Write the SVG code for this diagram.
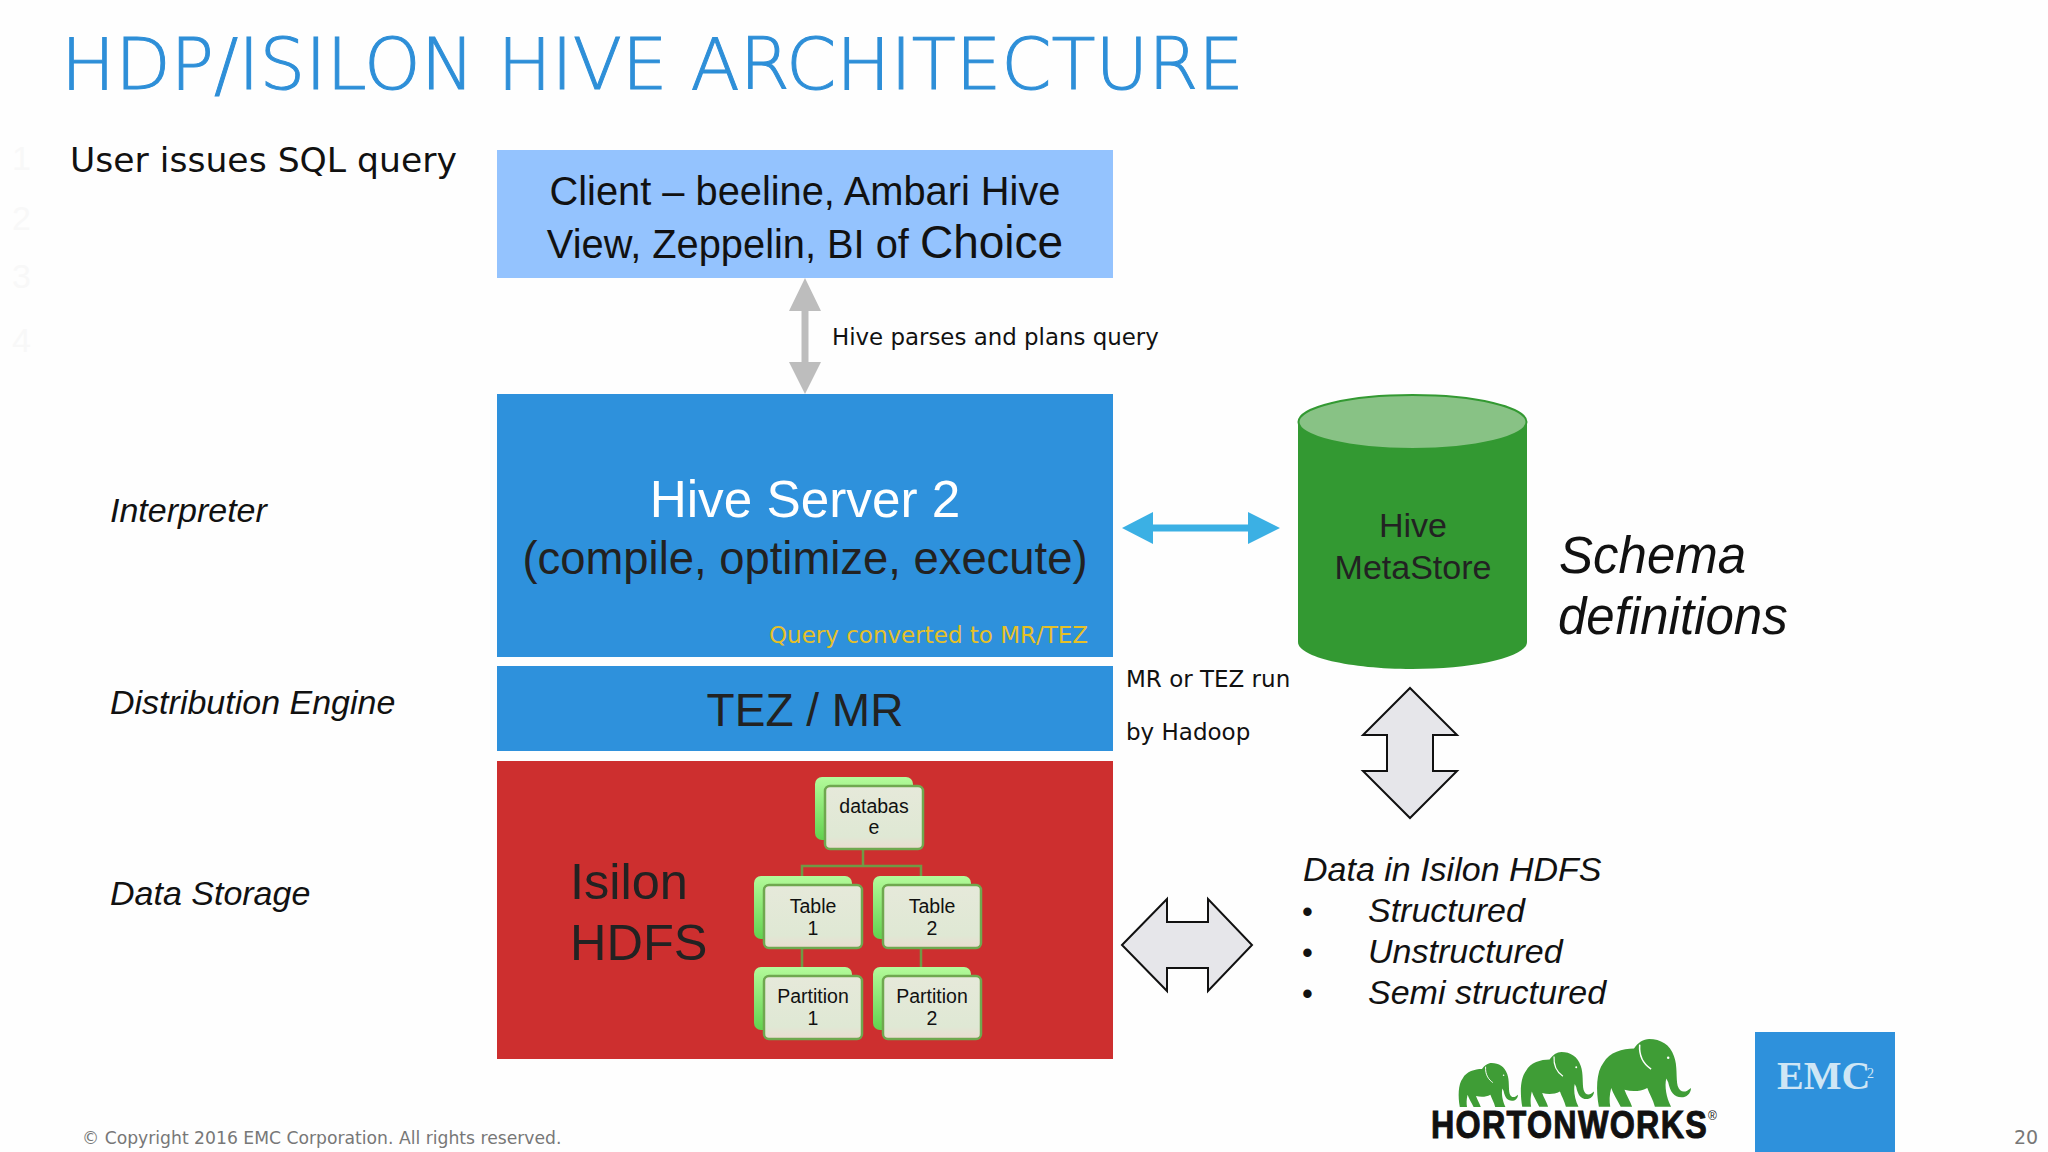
<svg xmlns="http://www.w3.org/2000/svg" xmlns:xlink="http://www.w3.org/1999/xlink" width="2048" height="1152" viewBox="0 0 2048 1152">
<style>
.a{font-family:"Liberation Sans",Arial,sans-serif}
.d{font-family:"DejaVu Sans",Verdana,sans-serif}
.i{font-style:italic;fill:#111}
.m{text-anchor:middle}
.t{font-size:19.500px;fill:#111;text-anchor:middle}
.back{fill:url(#bg)}
.front{fill:url(#fg);stroke:#6fa84f;stroke-width:2.5}
.tl{stroke:#6f9a45;stroke-width:2.5;fill:none}
.blk{fill:#e6e6ea;stroke:#111;stroke-width:2}
.ear{fill:none;stroke:#fff;stroke-width:1.6}
</style>
<defs>
<linearGradient id="bg" x1="0" y1="0" x2="0" y2="1"><stop offset="0" stop-color="#b4fb9b"/><stop offset="1" stop-color="#62d24f"/></linearGradient>
<linearGradient id="fg" x1="0" y1="0" x2="0" y2="1"><stop offset="0" stop-color="#e6e9da"/><stop offset=".8" stop-color="#dfe8d4"/><stop offset="1" stop-color="#ebdcd0"/></linearGradient>
<g id="ele">
<path fill="#3f9d36" d="M3,72 C0,55 0,35 8,25 C14,14 28,10 40,10 C44,4 50,0 56,0 C68,0 78,6 82,18 C86,28 84,42 86,50 C88,56 92,57 96,55 L100,52 C100,58 95,62 90,62 C82,62 78,56 76,46 L74,42 C72,50 74,62 79,72 L62,72 C60,64 56,58 54,52 C46,56 38,56 30,54 C32,60 36,66 38,72 L26,72 C22,64 18,58 16,52 C14,60 14,66 15,72 Z"/>
<path class="ear" d="M46,6 C45,20 52,28 58,32"/>
<circle cx="76" cy="20" r="1.3" fill="#fff"/>
</g>
<g id="box"><rect class="back" x="-10" y="-9" width="98" height="63" rx="7"/><rect class="front" x="0" y="0" width="98" height="63" rx="5"/></g>
</defs>
<rect width="2048" height="1152" fill="#fefefe"/>
<text id="title" x="61" y="89" font-size="72" font-weight="200" fill="#2e8fd8" stroke="#2e8fd8" stroke-width="1" style="font-family:'DejaVu Sans',sans-serif">HDP/ISILON HIVE ARCHITECTURE</text>
<g id="faint-numbers" class="a" font-size="34" fill="#f8f8f8"><text x="12" y="170">1</text><text x="12" y="230">2</text><text x="12" y="288">3</text><text x="12" y="352">4</text></g>
<text class="d" x="70" y="172" font-size="34.600" fill="#111">User issues SQL query</text>
<g class="a i" font-size="34"><text x="110" y="522">Interpreter</text><text x="110" y="714">Distribution Engine</text><text x="110" y="905">Data Storage</text></g>

<g id="client"><rect x="497" y="150" width="616" height="128" fill="#94c3fe"/>
<text class="a m" x="805" y="205" font-size="39.800" fill="#111">Client – beeline, Ambari Hive</text>
<text class="a m" x="805" y="258" font-size="39.800" fill="#111">View, Zeppelin, BI of <tspan font-size="46">Choice</tspan></text></g>

<g id="hive-server"><rect x="497" y="394" width="616" height="263" fill="#2e91dc"/>
<text class="a m" x="805" y="517" font-size="51.300" fill="#fff">Hive Server 2</text>
<text class="a m" x="805" y="574" font-size="45.400" fill="#222">(compile, optimize, execute)</text>
<text class="d" x="769" y="643" font-size="23" fill="#e6c028">Query converted to MR/TEZ</text></g>

<g id="tez"><rect x="497" y="666" width="616" height="85" fill="#2e91dc"/>
<text class="a m" x="805" y="726" font-size="46" fill="#222">TEZ / MR</text></g>

<g id="isilon"><rect x="497" y="761" width="616" height="298" fill="#cd2f2f"/>
<text class="a" x="570" y="899" font-size="50.500" fill="#222">Isilon</text>
<text class="a" x="570" y="960" font-size="50.500" fill="#222">HDFS</text></g>

<g id="tree-links"><path class="tl" d="M863,849V866M802,885V866H921V885M802,948V976M921,948V976"/></g>
<g id="n-database"><use xlink:href="#box" href="#box" x="825" y="786"/><text class="a t" x="874" y="813">databas</text><text class="a t" x="874" y="834">e</text></g>
<g id="n-table1"><use xlink:href="#box" href="#box" x="764" y="885"/><text class="a t" x="813" y="913">Table</text><text class="a t" x="813" y="935">1</text></g>
<g id="n-table2"><use xlink:href="#box" href="#box" x="883" y="885"/><text class="a t" x="932" y="913">Table</text><text class="a t" x="932" y="935">2</text></g>
<g id="n-part1"><use xlink:href="#box" href="#box" x="764" y="976"/><text class="a t" x="813" y="1003">Partition</text><text class="a t" x="813" y="1025">1</text></g>
<g id="n-part2"><use xlink:href="#box" href="#box" x="883" y="976"/><text class="a t" x="932" y="1003">Partition</text><text class="a t" x="932" y="1025">2</text></g>

<g id="metastore">
<path fill="#339932" d="M1298,422V642C1298,657 1350,669 1412,669C1475,669 1527,657 1527,642V422Z"/>
<ellipse cx="1412.500" cy="422" rx="114" ry="27" fill="#88c285" stroke="#339932" stroke-width="2"/>
<text class="a m" x="1413" y="537" font-size="34" fill="#222">Hive</text>
<text class="a m" x="1413" y="579" font-size="34" fill="#222">MetaStore</text></g>

<g id="connectors">
<path fill="#bdbdbd" d="M805,278L821,311H808.500V362H821L805,394L789,362H801.500V311H789Z"/>
<path fill="#3bb0e4" d="M1122,528L1153,512V524.500H1248V512L1280,528L1248,544V531.500H1153V544Z"/>
<path class="blk" d="M1410,688L1457,735H1433V771H1457L1410,818L1363,771H1387V735H1363Z"/>
<path class="blk" d="M1122,945L1167,899V922H1208V899L1252,945L1208,991V968H1167V991Z"/>
</g>
<text class="d" x="832" y="345" font-size="22.900" fill="#111">Hive parses and plans query</text>
<g class="d" font-size="23" fill="#111"><text x="1126" y="687">MR or TEZ run</text><text x="1126" y="740">by Hadoop</text></g>
<g class="a i" font-size="51"><text x="1559" y="573">Schema</text><text x="1558" y="634">definitions</text></g>
<g class="a i" font-size="34">
<text x="1303" y="881">Data in Isilon HDFS</text>
<text x="1302" y="922" font-style="normal" font-size="31">•</text><text x="1368" y="922">Structured</text>
<text x="1302" y="963" font-style="normal" font-size="31">•</text><text x="1368" y="963">Unstructured</text>
<text x="1302" y="1004" font-style="normal" font-size="31">•</text><text x="1368" y="1004">Semi structured</text></g>

<g id="hortonworks">
<use xlink:href="#ele" href="#ele" transform="translate(1458,1063) scale(.6,.61)"/>
<use xlink:href="#ele" href="#ele" transform="translate(1520,1052) scale(.74,.76)"/>
<use xlink:href="#ele" href="#ele" transform="translate(1596,1039) scale(.95,.94)"/>
<text class="a" transform="translate(1431,1138) scale(.85,1)" font-size="38" font-weight="700" fill="#111" stroke="#111" stroke-width="1" letter-spacing="1.500">HORTONWORKS</text>
<text class="a" x="1708" y="1120" font-size="12" fill="#111">®</text>
</g>
<g id="emc"><rect x="1755" y="1032" width="140" height="120" fill="#2e91dc"/>
<text x="1777" y="1089" font-size="40" font-weight="700" fill="#cfe6f5" style="font-family:'Liberation Serif',serif">EMC</text><text x="1867" y="1078" font-size="14" fill="#cfe6f5" style="font-family:'Liberation Serif',serif">2</text></g>
<text class="d" x="82" y="1144" font-size="17.200" fill="#777">© Copyright 2016 EMC Corporation. All rights reserved.</text>
<text class="d" x="2014" y="1144" font-size="19" fill="#777">20</text>
</svg>
